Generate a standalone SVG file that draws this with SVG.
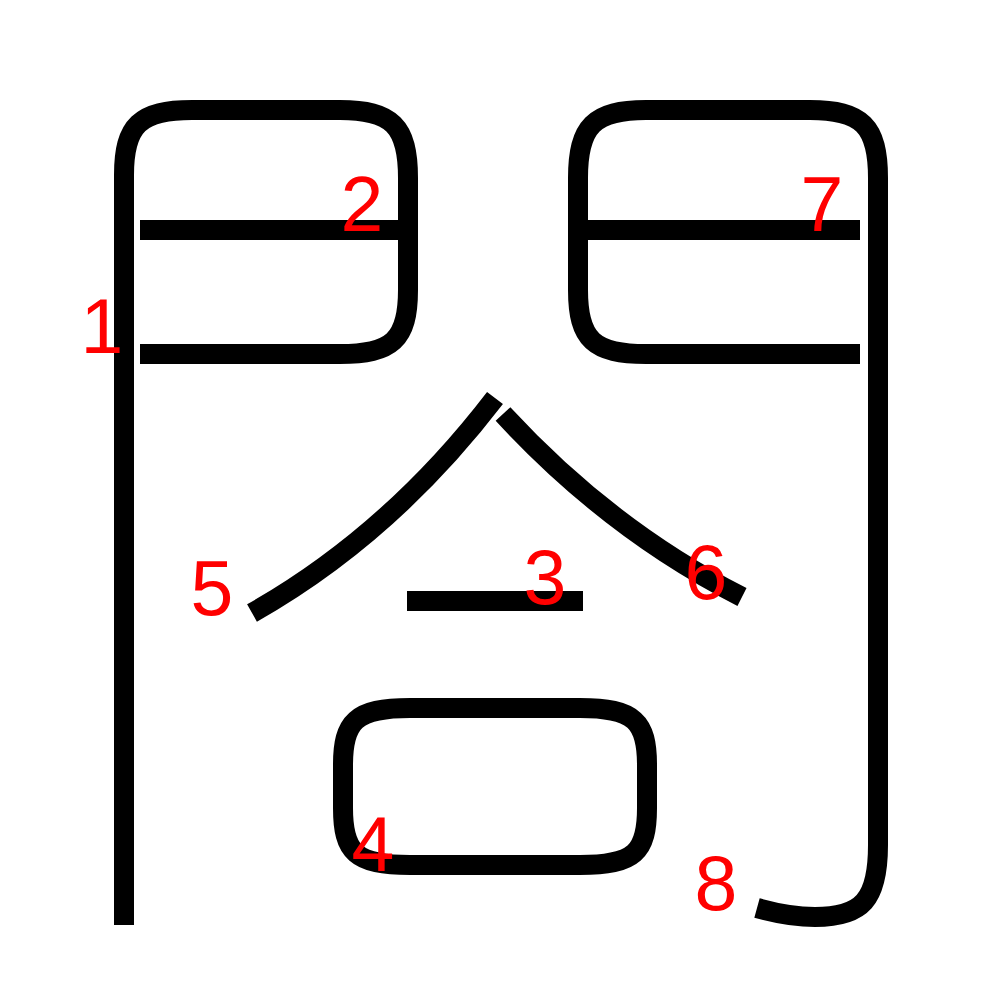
<svg xmlns="http://www.w3.org/2000/svg" width="1000" height="1000" viewBox="0 0 1000 1000">
<style>
.s{fill:none;stroke:#000;stroke-width:20;stroke-linecap:butt;stroke-linejoin:round}
.n{fill:#f00;font-family:"Liberation Sans",Arial,sans-serif;font-size:77px;text-anchor:middle}
</style>
<rect width="1000" height="1000" fill="#fff"/>
<g id="connectors">
<g id="stroke1"><path class="s" d="M124,925 V175 C124,125 140,110 192,110"/></g>
<g id="stroke2"><path class="s" d="M192,110 H340 C392,110 408,126 408,178 V290 C408,340 392,354 340,354 H140 M140,230 H408"/></g>
<g id="stroke3"><path class="s" d="M407,601 H583"/></g>
<g id="stroke4"><path class="s" d="M410,708 H580 C635,708 647,722 647,765 V808 C647,852 635,865 580,865 H410 C355,865 343,852 343,808 V765 C343,722 355,708 410,708 Z"/></g>
<g id="stroke5"><path class="s" d="M495,398 Q390,535 252,613"/></g>
<g id="stroke6"><path class="s" d="M503,414 Q610,530 742,597"/></g>
<g id="stroke7"><path class="s" d="M860,354 H646 C594,354 578,340 578,290 V178 C578,126 594,110 646,110 H810 C862,110 878,126 878,178 V230 M588,230 H860"/></g>
<g id="stroke8"><path class="s" d="M878,230 V845 C878,900 862,917 815,917 C792,917 775,913 757,908"/></g>
</g>
<g id="labels">
<text class="n" x="102" y="353">1</text>
<text class="n" x="362" y="231">2</text>
<text class="n" x="545" y="604">3</text>
<text class="n" x="373" y="871">4</text>
<text class="n" x="212" y="615">5</text>
<text class="n" x="706" y="599">6</text>
<text class="n" x="822" y="231">7</text>
<text class="n" x="716" y="910">8</text>
</g>
</svg>
